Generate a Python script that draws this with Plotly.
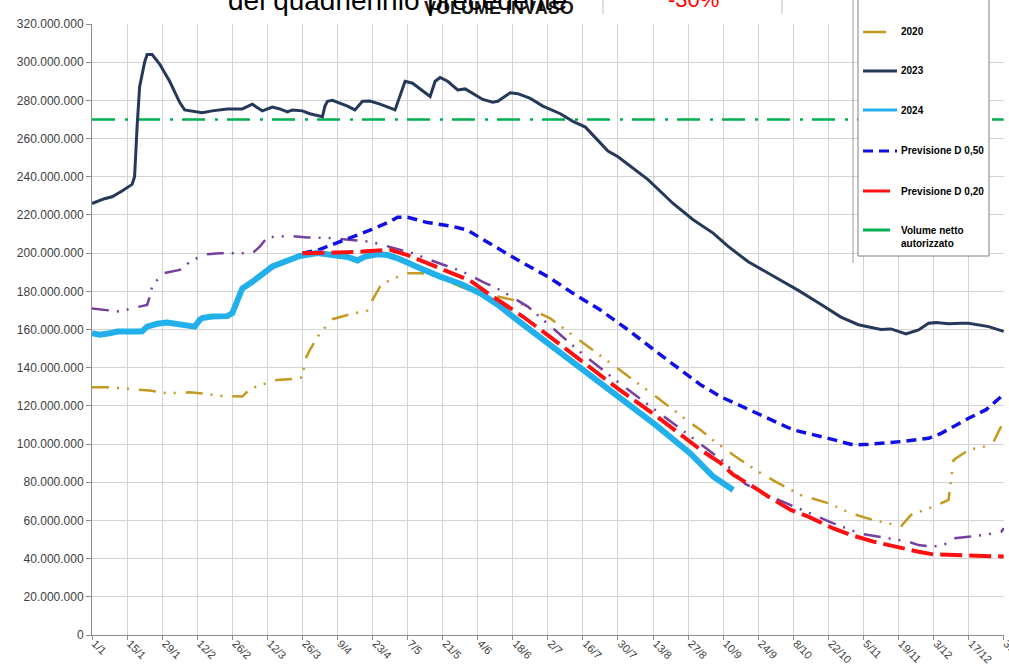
import plotly.graph_objects as go

# ---------------- data (values in millions of m3) ----------------
tick_dates = ["2023-01-01", "2023-01-15", "2023-01-29", "2023-02-12", "2023-02-26", "2023-03-12",
              "2023-03-26", "2023-04-09", "2023-04-23", "2023-05-07", "2023-05-21", "2023-06-04",
              "2023-06-18", "2023-07-02", "2023-07-16", "2023-07-30", "2023-08-13", "2023-08-27",
              "2023-09-10", "2023-09-24", "2023-10-08", "2023-10-22", "2023-11-05", "2023-11-19",
              "2023-12-03", "2023-12-17", "2023-12-31"]
tick_labels = ["1/1", "15/1", "29/1", "12/2", "26/2", "12/3", "26/3", "9/4", "23/4", "7/5", "21/5",
               "4/6", "18/6", "2/7", "16/7", "30/7", "13/8", "27/8", "10/9", "24/9", "8/10", "22/10",
               "5/11", "19/11", "3/12", "17/12", "31/12"]
y_ticks = [0, 20, 40, 60, 80, 100, 120, 140, 160, 180, 200, 220, 240, 260, 280, 300, 320]
y_tick_labels = ["0", "20.000.000", "40.000.000", "60.000.000", "80.000.000", "100.000.000",
                 "120.000.000", "140.000.000", "160.000.000", "180.000.000", "200.000.000",
                 "220.000.000", "240.000.000", "260.000.000", "280.000.000", "300.000.000",
                 "320.000.000"]

d2023 = ["2023-01-01", "2023-01-06", "2023-01-09", "2023-01-13", "2023-01-17", "2023-01-18",
         "2023-01-19", "2023-01-20", "2023-01-22", "2023-01-23", "2023-01-25", "2023-01-28",
         "2023-02-01", "2023-02-05", "2023-02-07", "2023-02-11", "2023-02-14", "2023-02-18",
         "2023-02-24", "2023-03-02", "2023-03-06", "2023-03-10", "2023-03-14", "2023-03-17",
         "2023-03-20", "2023-03-22", "2023-03-26", "2023-03-29", "2023-04-03", "2023-04-04",
         "2023-04-05", "2023-04-07", "2023-04-13", "2023-04-16", "2023-04-19", "2023-04-22",
         "2023-04-26", "2023-05-02", "2023-05-04", "2023-05-06", "2023-05-09", "2023-05-15",
         "2023-05-16", "2023-05-18", "2023-05-20", "2023-05-23", "2023-05-27", "2023-05-30",
         "2023-06-06", "2023-06-10", "2023-06-12", "2023-06-17", "2023-06-20", "2023-06-25",
         "2023-06-30", "2023-07-07", "2023-07-12", "2023-07-17", "2023-07-20", "2023-07-26",
         "2023-07-30", "2023-08-11", "2023-08-21", "2023-08-29", "2023-09-06", "2023-09-12",
         "2023-09-20", "2023-09-28", "2023-10-10", "2023-10-18", "2023-10-27", "2023-11-03",
         "2023-11-07", "2023-11-12", "2023-11-16", "2023-11-22", "2023-11-27", "2023-12-01",
         "2023-12-04", "2023-12-09", "2023-12-14", "2023-12-17", "2023-12-25", "2023-12-31"]
v2023 = [226, 228.5, 229.5, 232.5, 236, 240, 266, 287, 300, 304, 304, 299,
         290, 279, 275, 274, 273.5, 274.5, 275.5, 275.5, 278, 274.5, 276.5, 275.5,
         274, 275, 274.5, 273, 271.5, 277, 279.5, 280, 277, 275, 279.5, 279.7,
         278, 275, 282, 290, 289, 283, 282, 290, 292, 290, 285.5, 286,
         280.5, 279, 279.5, 284, 283.5, 281, 277, 273, 269, 266, 262, 253.5,
         250.5, 238.5, 226, 217.5, 210.5, 203.5, 195.5, 189.5, 180.5, 174, 166.5, 162.5,
         161.5, 160, 160.3, 157.7, 159.8, 163.3, 163.6, 163, 163.3, 163.3, 161.5, 159]

d2024 = ["2023-01-01", "2023-01-04", "2023-01-08", "2023-01-11", "2023-01-19", "2023-01-21",
         "2023-01-23", "2023-01-27", "2023-01-31", "2023-02-05", "2023-02-11", "2023-02-13",
         "2023-02-14", "2023-02-18", "2023-02-24", "2023-02-26", "2023-02-28", "2023-03-02",
         "2023-03-06", "2023-03-10", "2023-03-14", "2023-03-20", "2023-03-25", "2023-04-01",
         "2023-04-09", "2023-04-13", "2023-04-17", "2023-04-20", "2023-04-25", "2023-04-29",
         "2023-05-03", "2023-05-07", "2023-05-13", "2023-05-20", "2023-05-28", "2023-06-05",
         "2023-06-12", "2023-06-18", "2023-07-03", "2023-07-16", "2023-07-30", "2023-08-14",
         "2023-08-28", "2023-09-06", "2023-09-14"]
v2024 = [158, 157.3, 158, 158.9, 158.9, 159, 161.5, 163, 163.6, 163, 161.5, 165,
         166, 166.8, 167, 168.5, 175.5, 181.5, 185, 189, 193, 196, 198.5, 200,
         199, 198, 196.2, 198.2, 199.4, 199, 197.3, 194.7, 191.5, 187.7, 184, 179,
         173, 166.8, 152, 139, 125, 110, 95, 83, 76]

d2020 = ["2023-01-01", "2023-01-08", "2023-01-16", "2023-01-24", "2023-01-31", "2023-02-09",
         "2023-02-13", "2023-02-22", "2023-03-02", "2023-03-04", "2023-03-08", "2023-03-16",
         "2023-03-22", "2023-03-26", "2023-03-27", "2023-03-29", "2023-04-02", "2023-04-07",
         "2023-04-13", "2023-04-21", "2023-04-23", "2023-04-26", "2023-04-30", "2023-05-07",
         "2023-05-13", "2023-05-19", "2023-05-28", "2023-06-05", "2023-06-12", "2023-06-18",
         "2023-06-26", "2023-07-03", "2023-07-16", "2023-07-30", "2023-08-14", "2023-08-28",
         "2023-09-01", "2023-09-06", "2023-09-14", "2023-09-25", "2023-10-02", "2023-10-11",
         "2023-10-22", "2023-10-31", "2023-11-09", "2023-11-15", "2023-11-20", "2023-11-21",
         "2023-11-24", "2023-12-03", "2023-12-09", "2023-12-11", "2023-12-17", "2023-12-23",
         "2023-12-27", "2023-12-31"]
v2020 = [129.7, 129.7, 128.9, 128, 126.6, 127.1, 126.6, 125.2, 124.9, 127.5, 130.4, 133.6,
         134.1, 135, 144, 149.3, 158, 165.4, 167.6, 170, 175.5, 182.5, 186, 189.5,
         189.5, 187.7, 182.5, 179, 177.3, 175.5, 170.2, 165.8, 153, 139.5, 125, 111,
         107.4, 102, 94.3, 84.7, 79.5, 73.3, 69, 63.7, 60.2, 58.5, 56.7, 58.5,
         62.9, 67.3, 70.7, 91.7, 96.9, 98.6, 101.3, 112]

d_purple = ["2023-01-01", "2023-01-08", "2023-01-12", "2023-01-19", "2023-01-23", "2023-01-24",
            "2023-01-25", "2023-01-29", "2023-02-05", "2023-02-10", "2023-02-16", "2023-02-21",
            "2023-03-06", "2023-03-09", "2023-03-12", "2023-03-21", "2023-03-28", "2023-04-06",
            "2023-04-13", "2023-04-22", "2023-04-27", "2023-05-09", "2023-05-16", "2023-05-29",
            "2023-06-06", "2023-06-13", "2023-06-24", "2023-07-16", "2023-07-30", "2023-08-14",
            "2023-08-28", "2023-09-10", "2023-09-19", "2023-09-29", "2023-10-07", "2023-10-16",
            "2023-10-24", "2023-11-04", "2023-11-23", "2023-11-27", "2023-12-03", "2023-12-09",
            "2023-12-11", "2023-12-17", "2023-12-23", "2023-12-30", "2023-12-31"]
v_purple = [171, 170.2, 169.4, 171.7, 172.9, 177, 182.4, 189.3, 191.2, 196.4, 199.4, 199.9,
            199.9, 203.4, 208.3, 209, 208.2, 207.9, 207, 206, 204.3, 200, 196.4, 190.3,
            185, 180.7, 172, 147, 132.5, 118, 104, 91, 79, 72.5, 68, 63,
            58.5, 53, 48.9, 47.1, 46.3, 48, 50.6, 51.5, 52.4, 54, 56]

d_p50 = ["2023-03-26", "2023-04-01", "2023-04-13", "2023-04-22", "2023-04-30", "2023-05-03",
         "2023-05-07", "2023-05-15", "2023-05-25", "2023-05-31", "2023-06-05", "2023-06-13",
         "2023-06-21", "2023-07-02", "2023-07-12", "2023-07-23", "2023-08-03", "2023-08-16",
         "2023-08-28", "2023-09-01", "2023-09-09", "2023-09-25", "2023-10-08", "2023-10-22",
         "2023-11-01", "2023-11-07", "2023-11-20", "2023-12-01", "2023-12-06", "2023-12-17",
         "2023-12-24", "2023-12-31"]
v_p50 = [200, 201.5, 207.5, 212, 216.5, 218.8, 218.8, 216, 214, 212, 208, 201.7,
         195.6, 187.7, 179, 170.2, 159.8, 146.7, 134.5, 131, 124.8, 115.2, 107.4, 103,
         99.5, 99.9, 101.3, 103, 105.6, 113.5, 118, 126]

d_p20 = ["2023-03-26", "2023-04-01", "2023-04-09", "2023-04-19", "2023-04-30", "2023-05-07",
         "2023-05-15", "2023-05-25", "2023-06-01", "2023-06-08", "2023-06-16", "2023-06-22",
         "2023-07-03", "2023-07-16", "2023-07-30", "2023-08-14", "2023-08-28", "2023-09-01",
         "2023-09-09", "2023-09-14", "2023-09-24", "2023-09-28", "2023-10-07", "2023-10-14",
         "2023-10-24", "2023-10-31", "2023-11-09", "2023-11-20", "2023-11-27", "2023-12-03",
         "2023-12-14", "2023-12-21", "2023-12-31"]
v_p20 = [200, 200, 200.3, 200.8, 201.7, 199, 194.7, 189.5, 185.6, 179, 172, 166.8,
         156, 143, 129, 115, 101, 97, 90, 84, 76, 72.5, 65.5, 62, 55.8, 52.4,
         48.9, 45.4, 43.6, 42.2, 41.8, 41.4, 41.1]

d_vol = ["2023-01-01", "2023-12-31"]
v_vol = [270, 270]

# ---------------- layout geometry ----------------
W, H = 1009, 670
ML, MR, MT, MB = 92, 5, 24, 35
PW, PH = W - ML - MR, H - MT - MB


def px(xpix):
    return (xpix - ML) / PW


def py(ypix):
    return (H - MB - ypix) / PH


C2020 = "#C49A22"
C2023 = "#26395A"
C2024 = "#22B0EA"
CP50 = "#1010E6"
CP20 = "#FF1010"
CVOL = "#00B050"
CPUR = "#7540A0"

fig = go.Figure()

fig.add_trace(go.Scatter(x=d_vol, y=v_vol, mode="lines", name="Volume netto autorizzato",
                         line=dict(color=CVOL, width=2.5, dash="23px,10px,3px,9px")))
fig.add_trace(go.Scatter(x=d2020, y=v2020, mode="lines", name="2020",
                         line=dict(color=C2020, width=2.5, dash="17px,8px,2px,8px,2px,10px")))
fig.add_trace(go.Scatter(x=d_purple, y=v_purple, mode="lines", name="Media",
                         line=dict(color=CPUR, width=2.5, dash="17px,8px,2px,8px,2px,10px")))
fig.add_trace(go.Scatter(x=d2023, y=v2023, mode="lines", name="2023",
                         line=dict(color=C2023, width=3)))
fig.add_trace(go.Scatter(x=d_p50, y=v_p50, mode="lines", name="Previsione D 0,50",
                         line=dict(color=CP50, width=3.5, dash="10px,6px")))
fig.add_trace(go.Scatter(x=d2024, y=v2024, mode="lines", name="2024",
                         line=dict(color=C2024, width=6)))
fig.add_trace(go.Scatter(x=d_p20, y=v_p20, mode="lines", name="Previsione D 0,20",
                         line=dict(color=CP20, width=4, dash="22px,7px")))

shapes = []
annotations = []

# legend box
shapes.append(dict(type="line", xref="paper", yref="paper", x0=px(853), x1=px(853),
                   y0=py(-5), y1=py(263), line=dict(color="#A0A0A0", width=1), layer="above"))
shapes.append(dict(type="rect", xref="paper", yref="paper", x0=px(858), x1=px(989),
                   y0=py(256), y1=py(-5), fillcolor="white",
                   line=dict(color="#808080", width=1), layer="above"))

leg = [
    ("2020", C2020, None, 886, 32, 2.5),
    ("2023", C2023, None, 897, 71, 3),
    ("2024", C2024, None, 897, 110, 3),
    ("Previsione D 0,50", CP50, "10px,6px", 897, 151, 3),
    ("Previsione D 0,20", CP20, None, 890, 191, 3),
    ("Volume netto<br>autorizzato", CVOL, None, 890, 230, 3),
]
for name, col, dash, xend, ypix, w in leg:
    ln = dict(color=col, width=w)
    if dash:
        ln["dash"] = dash
    shapes.append(dict(type="line", xref="paper", yref="paper", x0=px(863), x1=px(xend),
                       y0=py(ypix), y1=py(ypix), line=ln, layer="above"))
    if "<br>" in name:
        annotations.append(dict(xref="paper", yref="paper", x=px(899), y=py(ypix - 7),
                                xanchor="left", yanchor="top", text="<b>" + name + "</b>",
                                showarrow=False, align="left",
                                font=dict(family="Liberation Sans", size=10, color="#000000")))
    else:
        annotations.append(dict(xref="paper", yref="paper", x=px(899), y=py(ypix),
                                xanchor="left", yanchor="middle", text="<b>" + name + "</b>",
                                showarrow=False,
                                font=dict(family="Liberation Sans", size=10, color="#000000")))

# partially visible header table at the top
for xv in (603, 782):
    shapes.append(dict(type="line", xref="paper", yref="paper", x0=px(xv), x1=px(xv),
                       y0=py(14), y1=py(-5), line=dict(color="#BFBFBF", width=1), layer="above"))

annotations.append(dict(xref="paper", yref="paper", x=px(499), y=py(20), xanchor="center",
                        yanchor="bottom", text="<b>VOLUME INVASO</b>", showarrow=False,
                        font=dict(family="Liberation Sans", size=18, color="#1A1A1A")))
annotations.append(dict(xref="paper", yref="paper", x=px(226), y=py(18), xanchor="left",
                        yanchor="bottom", text="del quadriennio precedente", showarrow=False,
                        font=dict(family="Liberation Sans", size=28, color="#000000")))
annotations.append(dict(xref="paper", yref="paper", x=px(693), y=py(14), xanchor="center",
                        yanchor="bottom", text="-30%", showarrow=False,
                        font=dict(family="Liberation Sans", size=22, color="#FF0000")))

fig.update_layout(
    width=W, height=H,
    margin=dict(l=ML, r=MR, t=MT, b=MB, pad=0),
    paper_bgcolor="white", plot_bgcolor="white",
    showlegend=False,
    shapes=shapes, annotations=annotations,
    font=dict(family="Liberation Sans", size=11, color="#404040"),
)
fig.update_xaxes(
    range=["2023-01-01", "2023-12-31 03:00"], tickmode="array", tickvals=tick_dates,
    ticktext=tick_labels, tickangle=45, showgrid=True, gridcolor="#D4D4D4", gridwidth=1,
    showline=True, linecolor="#8C8C8C", linewidth=1, ticks="outside", ticklen=4,
    tickcolor="#8C8C8C", tickfont=dict(family="Liberation Sans", size=11, color="#404040"),
    ticklabelstandoff=-7, ticklabelshift=3, ticklabeloverflow="allow",
    zeroline=False, automargin=False,
)
fig.update_yaxes(
    range=[0, 320], tickmode="array", tickvals=y_ticks, ticktext=y_tick_labels,
    showgrid=True, gridcolor="#D4D4D4", gridwidth=1, showline=True, linecolor="#8C8C8C",
    linewidth=1, ticks="outside", ticklen=5, tickcolor="#8C8C8C",
    tickfont=dict(family="Liberation Sans", size=12, color="#404040"),
    zeroline=False, automargin=False,
)

fig.write_html("out.html", config={"displayModeBar": False},
               post_script="document.body.style.margin='0px';"
               "document.body.style.overflow='hidden';")
